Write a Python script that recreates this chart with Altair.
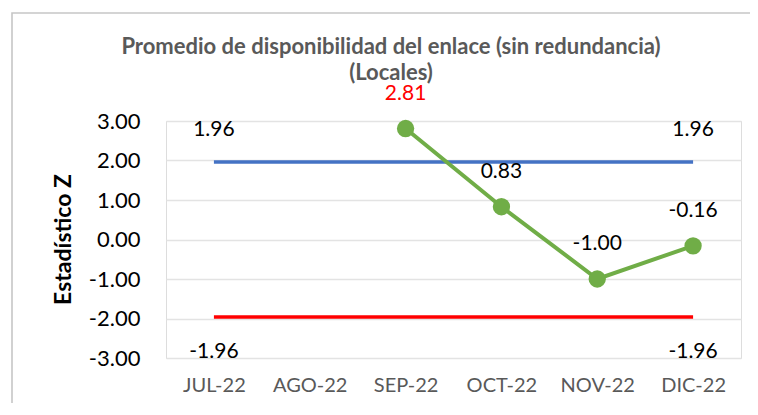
import altair as alt
import pandas as pd

months = ["JUL-22", "AGO-22", "SEP-22", "OCT-22", "NOV-22", "DIC-22"]
z_values = [None, None, 2.81, 0.83, -1.00, -0.16]
upper_limit = [1.96, 1.96, 1.96, 1.96, 1.96, 1.96]
lower_limit = [-1.96, -1.96, -1.96, -1.96, -1.96, -1.96]
limit_label_months = ["JUL-22", "DIC-22"]
y_ticks = [-3, -2, -1, 0, 1, 2, 3]
title_lines = ["Promedio de disponibilidad del enlace (sin redundancia)", "(Locales)"]

df = pd.DataFrame({"mes": months, "z": z_values, "sup": upper_limit, "inf": lower_limit})
df_z = df.dropna(subset=["z"])
df_lab = df[df["mes"].isin(limit_label_months)]

FONT = "Lato"
xs = alt.Scale(type="point", domain=months, padding=0.5)
ys = alt.Scale(domain=[-3, 3], nice=False)

x_axis = alt.Axis(title=None, labelFont=FONT, labelFontSize=20, labelColor="#595959",
                  labelPadding=17, domain=False, ticks=False, grid=False, labelAngle=0)
y_axis = alt.Axis(title="Estadístico Z", values=y_ticks, labelOverlap=False, tickCount=7,
                  labelExpr="replace(format(datum.value, '.2f'), '\u2212', '-')",
                  labelFont=FONT, labelFontSize=22, labelColor="#000000", labelPadding=26,
                  domain=False, ticks=False, grid=True, gridColor="#E3E3E3", gridWidth=1.3,
                  titleFont=FONT, titleFontSize=23, titleFontWeight="bold", titleColor="#000000",
                  titleX=-103, titleY=118, titleAngle=270, titleAlign="center",
                  titleBaseline="middle")

X = alt.X("mes:N", scale=xs, sort=months, axis=x_axis)


def Y(field):
    return alt.Y(f"{field}:Q", scale=ys, axis=y_axis)


def fmt(field):
    return f"replace(format(datum.{field}, '.2f'), '\u2212', '-')"


one = pd.DataFrame({"k": [0]})
border = alt.Chart(one).mark_rect(
    filled=False, stroke="#C6C6C6", strokeWidth=1.6
).encode(x=alt.value(-154), x2=alt.value(650), y=alt.value(-108), y2=alt.value(340))

title1 = alt.Chart(one).mark_text(
    font=FONT, fontSize=22, fontWeight="bold", color="#595959", align="center", baseline="middle"
).encode(x=alt.value(225), y=alt.value(-74), text=alt.value(title_lines[0]))
title2 = alt.Chart(one).mark_text(
    font=FONT, fontSize=22, fontWeight="bold", color="#595959", align="center", baseline="middle"
).encode(x=alt.value(225), y=alt.value(-48), text=alt.value(title_lines[1]))

base = alt.Chart(df)

sup_line = base.mark_line(color="#4472C4", strokeWidth=3.5).encode(x=X, y=Y("sup"))
inf_line = base.mark_line(color="#FF0000", strokeWidth=3.5).encode(x=X, y=Y("inf"))

z_line = alt.Chart(df_z).mark_line(color="#70AD47", strokeWidth=4).encode(x=X, y=Y("z"))
z_pts = alt.Chart(df_z).mark_point(filled=True, opacity=1, color="#70AD47", size=300).encode(
    x=X, y=Y("z"))
z_txt = alt.Chart(df_z).transform_calculate(lab=fmt("z")).mark_text(
    font=FONT, fontSize=21, dy=-35, baseline="middle").encode(
    x=X, y=Y("z"), text="lab:N",
    color=alt.condition("datum.z > 1.96", alt.value("#FF0000"), alt.value("#000000")))

sup_txt = alt.Chart(df_lab).transform_calculate(lab=fmt("sup")).mark_text(
    font=FONT, fontSize=21, dy=-32, baseline="middle", color="#000000").encode(
    x=X, y=Y("sup"), text="lab:N")
inf_txt = alt.Chart(df_lab).transform_calculate(lab=fmt("inf")).mark_text(
    font=FONT, fontSize=21, dy=35, baseline="middle", color="#000000").encode(
    x=X, y=Y("inf"), text="lab:N")

chart = alt.layer(border, title1, title2, sup_line, inf_line, z_line, z_pts, z_txt,
                  sup_txt, inf_txt).properties(
    width=575, height=237,
    padding={"left": 158, "top": 113, "right": 9, "bottom": 45},
    autosize=alt.AutoSizeParams(type="none"),
).configure_view(stroke=None).configure(background="white")

chart.save("out.html", embed_options={"renderer": "svg", "actions": False})
